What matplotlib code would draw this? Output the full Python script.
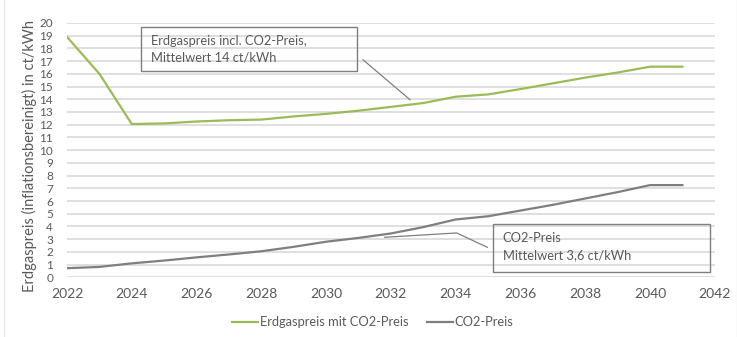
import matplotlib.pyplot as plt
from matplotlib.patches import Rectangle
from matplotlib.lines import Line2D

# data
years = list(range(2022, 2042))
gas_incl_co2 = [18.9, 16.0, 12.05, 12.1, 12.25, 12.35, 12.4, 12.65, 12.85, 13.1,
                13.4, 13.7, 14.2, 14.38, 14.8, 15.25, 15.7, 16.1, 16.56, 16.56]
co2_price = [0.72, 0.82, 1.1, 1.32, 1.57, 1.8, 2.05, 2.4, 2.8, 3.1,
             3.45, 3.95, 4.55, 4.8, 5.25, 5.7, 6.2, 6.7, 7.25, 7.25]
x_ticks = list(range(2022, 2043, 2))
y_ticks = list(range(0, 21))

green = '#9bbb59'
grey = '#7f7f7f'
text_col = '#595959'

plt.rcParams['font.family'] = ['Lato', 'DejaVu Sans']

fig = plt.figure(figsize=(7.37, 3.37), dpi=100)
ax = fig.add_axes([0.0909, 0.177, 0.879, 0.755])

ax.plot(years, gas_incl_co2, color=green, lw=1.6, label='Erdgaspreis mit CO2-Preis', zorder=3)
ax.plot(years, co2_price, color=grey, lw=1.6, label='CO2-Preis', zorder=3)

ax.set_xlim(2022, 2042)
ax.set_ylim(0, 20)
ax.set_xticks(x_ticks)
ax.set_yticks(y_ticks)
ax.tick_params(axis='x', labelsize=10, colors=text_col, length=0, pad=8)
ax.tick_params(axis='y', labelsize=8.5, colors=text_col, length=0, pad=10)
ax.grid(axis='y', color='#d9d9d9', lw=1.2)
ax.set_axisbelow(True)
for s in ax.spines.values():
    s.set_visible(False)

ax.set_ylabel('Erdgaspreis (inflationsbereinigt) in ct/kWh', fontsize=10.5, color=text_col)
ax.yaxis.set_label_coords(-0.047, 0.476)

# annotation boxes with leader lines
fs = 9.3
ax.add_patch(Rectangle((2024.27, 16.24), 6.68, 3.45, fill=False, ec=grey, lw=1.0, zorder=4, clip_on=False))
ax.text(2024.6, 18.55, 'Erdgaspreis incl. CO2-Preis,', fontsize=fs, color=text_col, va='center', zorder=5)
ax.text(2024.6, 17.25, 'Mittelwert 14 ct/kWh', fontsize=fs, color=text_col, va='center', zorder=5)
ax.plot([2031.14, 2032.59], [17.1, 13.96], color=grey, lw=0.9, zorder=4)

ax.add_patch(Rectangle((2035.14, 0.39), 6.71, 3.78, fill=False, ec=grey, lw=1.0, zorder=4, clip_on=False))
ax.text(2035.45, 3.1, 'CO2-Preis', fontsize=fs, color=text_col, va='center', zorder=5)
ax.text(2035.45, 1.72, 'Mittelwert 3,6 ct/kWh', fontsize=fs, color=text_col, va='center', zorder=5)
ax.plot([2031.81, 2034.03, 2034.98], [3.15, 3.49, 2.36], color=grey, lw=0.9, zorder=4)

leg = ax.legend(loc='center', bbox_to_anchor=(0.472, -0.177), ncol=2, frameon=False,
                fontsize=9.3, handlelength=2.0, handletextpad=0.15, columnspacing=1.4)
for t in leg.get_texts():
    t.set_color(text_col)

# light outer frame lines on the left and right
fig.add_artist(Line2D([0.006, 0.006], [0.0, 1.0], color='#e6e6e6', lw=1.0))
fig.add_artist(Line2D([0.9995, 0.9995], [0.0, 1.0], color='#e6e6e6', lw=1.0))

fig.savefig('out.png', dpi=100)
